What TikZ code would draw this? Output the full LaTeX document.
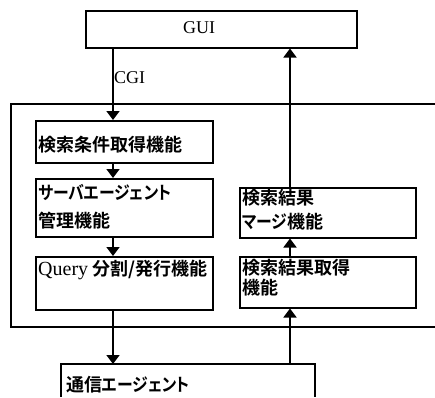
\documentclass[tikz,border=0pt]{standalone}
\usepackage{fontspec}
\setmainfont{Liberation Serif}
\newfontfamily\jp[RawFeature=+palt]{Noto Sans CJK JP Bold}
\newfontfamily\jpk[RawFeature=+palt,FakeStretch=0.88]{Noto Sans CJK JP Bold}
\newcommand{\kana}[1]{{\jpk #1}}
\usetikzlibrary{arrows.meta}
\tikzset{
  box/.style={draw, line width=1.5pt, inner sep=0pt, anchor=north west},
  jt/.style={anchor=west, inner sep=0pt, font=\jp\fontsize{18}{20}\selectfont},
  lt/.style={anchor=west, inner sep=0pt, font=\fontsize{18}{20}\selectfont},
  arr/.style={line width=1.6pt, -{Triangle[length=9pt,width=13pt]}}
}
\begin{document}
\begin{tikzpicture}[x=1pt,y=-1pt]
\useasboundingbox (0,0) rectangle (435,397);
% GUI box
\node[box, minimum width=271pt, minimum height=37pt] (gui) at (85,10) {};
\node[lt, anchor=center] (guit) at (199,28) {GUI};
% outer frame (open on right)
\coordinate (ftl) at (435,104);
\coordinate (fbr) at (435,327);
\draw[line width=1.5pt] (ftl) -- (11,104) -- (11,327) -- (fbr);
% left column
\node[box, minimum width=177pt, minimum height=42pt] (b1) at (35,120) {};
\node[box, minimum width=177pt, minimum height=58pt] (b2) at (35,178) {};
\node[box, minimum width=177pt, minimum height=53pt] (b3) at (35,256) {};
% right column
\node[box, minimum width=176pt, minimum height=50pt] (b4) at (239,187) {};
\node[box, minimum width=176pt, minimum height=51pt] (b5) at (239,256) {};
% bottom agent (open at bottom)
\coordinate (b6l) at (61,397);
\coordinate (b6r) at (315,397);
\draw[line width=1.5pt] (b6l) -- (61,364) coordinate (b6tl) -- (315,364) coordinate (b6tr) -- (b6r);
% texts
\node[jt] (t1) at (38,145) {検索条件取得機能};
\node[jt] (t2a) at (38,192) {\kana{サーバエージェント}};
\node[jt] (t2b) at (38,221) {管理機能};
\node[jt] (t3) at (38,270) {{\rmfamily\fontsize{20}{20}\selectfont Query} 分割/発行機能};
\node[jt] (t4a) at (242,198) {検索結果};
\node[jt] (t4b) at (242,222) {\kana{マージ}機能};
\node[jt] (t5a) at (242,268) {検索結果取得};
\node[jt] (t5b) at (242,288) {機能};
\node[jt] (t6) at (66,385) {通信\kana{エージェント}};
\node[lt] (cgi) at (114,78) {CGI};
% arrows
\coordinate (a6top1) at (113,364);
\coordinate (a6top2) at (290,364);
\draw[arr] (gui.south -| 113,0) -- (b1.north -| 113,0);
\draw[arr] (b1.south -| 113,0) -- (b2.north -| 113,0);
\draw[arr] (b2.south -| 113,0) -- (b3.north -| 113,0);
\draw[arr] (b3.south -| 113,0) -- (a6top1);
\draw[arr] (a6top2) -- (b5.south -| 290,0);
\draw[arr] (b5.north -| 290,0) -- (b4.south -| 290,0);
\draw[arr] (b4.north -| 290,0) -- (gui.south -| 290,0);
\end{tikzpicture}
\end{document}
